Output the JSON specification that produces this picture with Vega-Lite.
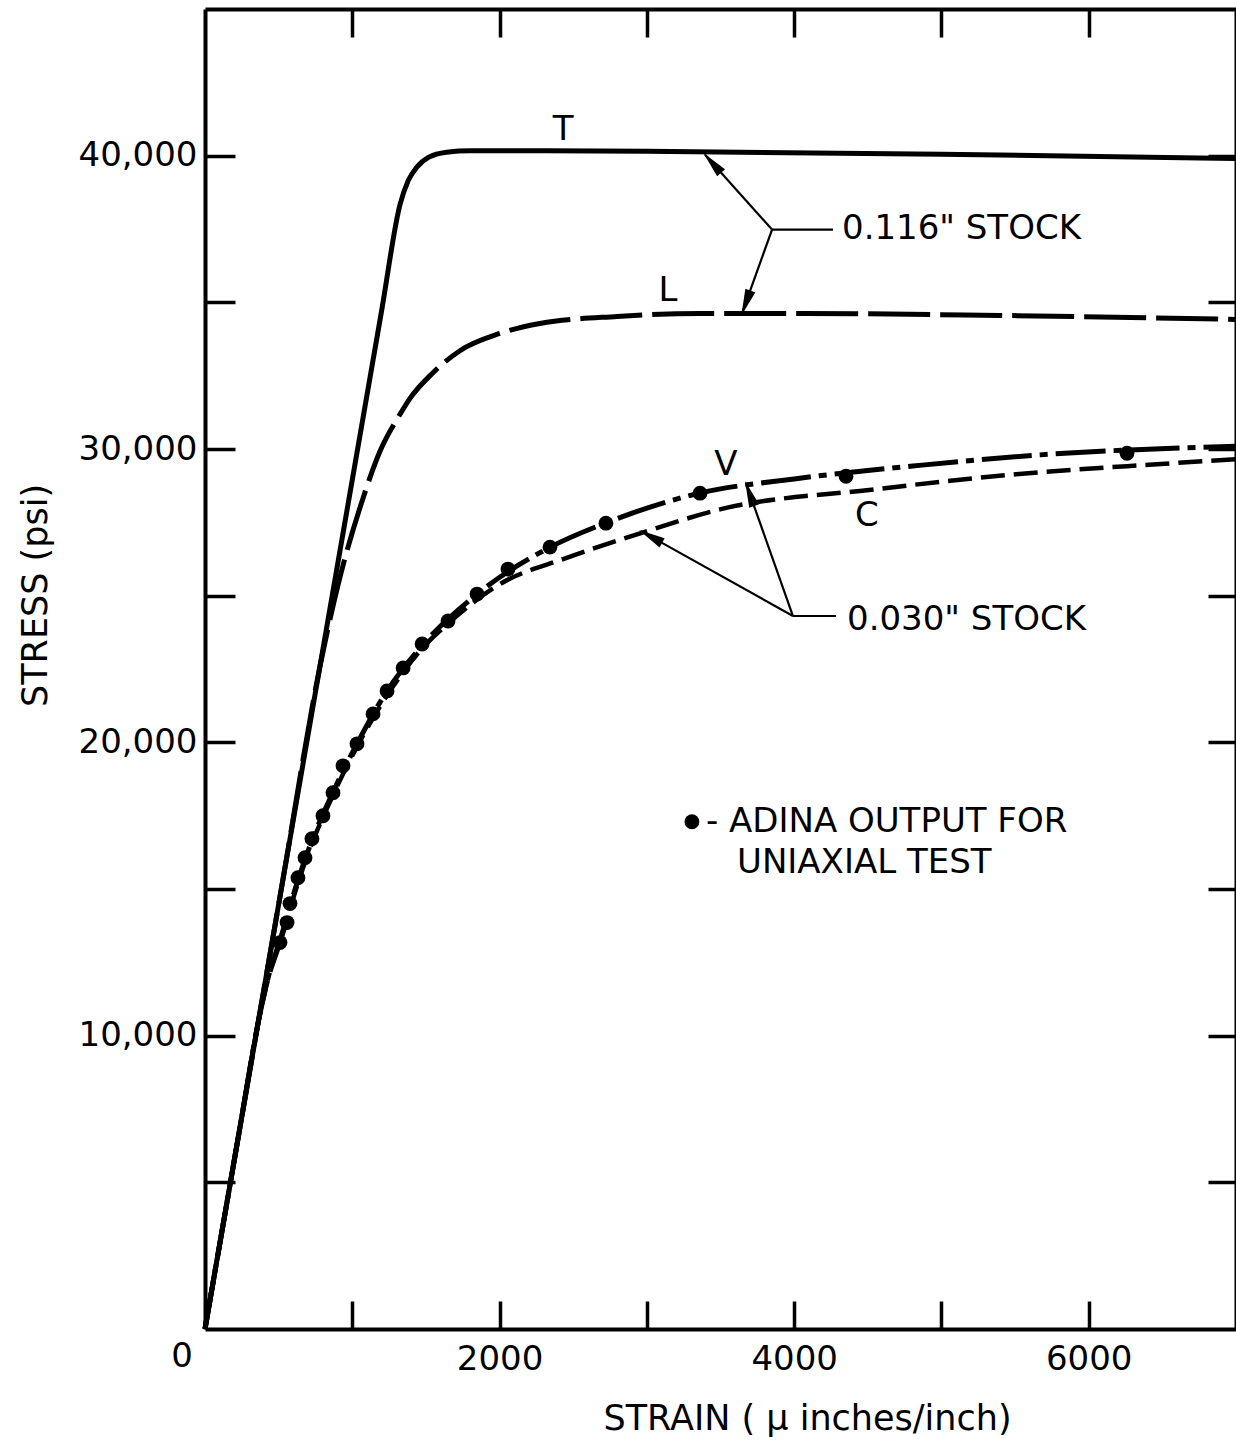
{
  "$schema": "https://vega.github.io/schema/vega-lite/v6.json",
  "width": 1031,
  "height": 1320,
  "autosize": {"type": "none"},
  "padding": {"left": 205, "top": 9, "right": 0, "bottom": 112},
  "background": "white",
  "config": {
    "view": {"stroke": null},
    "font": "DejaVu Sans",
    "axis": {"labelFont": "DejaVu Sans", "titleFont": "DejaVu Sans", "labelColor": "black", "titleColor": "black", "tickColor": "black", "domainColor": "black", "grid": false, "domainWidth": 4, "tickWidth": 3.5, "labelFontSize": 34, "titleFontSize": 35, "titleFontWeight": "normal", "labelFlush": false, "labelOverlap": false}
  },
  "datasets": {
    "T": [
      {"strain": 0, "stress": 0}, {"strain": 400, "stress": 11580}, {"strain": 800, "stress": 23160}, {"strain": 1200, "stress": 34740}, {"strain": 1324, "stress": 38330}, {"strain": 1380, "stress": 39150}, {"strain": 1440, "stress": 39620}, {"strain": 1520, "stress": 39950}, {"strain": 1640, "stress": 40120}, {"strain": 1800, "stress": 40170}, {"strain": 3000, "stress": 40150}, {"strain": 5000, "stress": 40050}, {"strain": 7000, "stress": 39900}
    ],
    "L": [
      {"strain": 0, "stress": 0}, {"strain": 260, "stress": 7527}, {"strain": 520, "stress": 15054}, {"strain": 780, "stress": 22580}, {"strain": 900, "stress": 25300}, {"strain": 1073, "stress": 28323}, {"strain": 1188, "stress": 29923}, {"strain": 1324, "stress": 31183}, {"strain": 1392, "stress": 31728}, {"strain": 1548, "stress": 32600}, {"strain": 1731, "stress": 33350}, {"strain": 2003, "stress": 33940}, {"strain": 2274, "stress": 34280}, {"strain": 2797, "stress": 34519}, {"strain": 3361, "stress": 34621}, {"strain": 4040, "stress": 34621}, {"strain": 5397, "stress": 34553}, {"strain": 7000, "stress": 34417}
    ],
    "V": [
      {"strain": 0, "stress": 0}, {"strain": 120, "stress": 3474}, {"strain": 240, "stress": 6948}, {"strain": 360, "stress": 10420}, {"strain": 430, "stress": 12000}, {"strain": 509, "stress": 13250}, {"strain": 631, "stress": 15300}, {"strain": 726, "stress": 16650}, {"strain": 869, "stress": 18300}, {"strain": 1032, "stress": 19950}, {"strain": 1236, "stress": 21750}, {"strain": 1474, "stress": 23300}, {"strain": 1847, "stress": 25050}, {"strain": 2342, "stress": 26650}, {"strain": 2722, "stress": 27480}, {"strain": 3361, "stress": 28500}, {"strain": 4000, "stress": 28980}, {"strain": 4868, "stress": 29450}, {"strain": 5669, "stress": 29800}, {"strain": 7000, "stress": 30094}
    ],
    "C": [
      {"strain": 0, "stress": 0}, {"strain": 120, "stress": 3474}, {"strain": 240, "stress": 6948}, {"strain": 360, "stress": 10420}, {"strain": 430, "stress": 11950}, {"strain": 509, "stress": 13150}, {"strain": 631, "stress": 15200}, {"strain": 726, "stress": 16550}, {"strain": 869, "stress": 18200}, {"strain": 1032, "stress": 19850}, {"strain": 1236, "stress": 21600}, {"strain": 1474, "stress": 23200}, {"strain": 1650, "stress": 24050}, {"strain": 2003, "stress": 25396}, {"strain": 2451, "stress": 26281}, {"strain": 2960, "stress": 27132}, {"strain": 3503, "stress": 27949}, {"strain": 4556, "stress": 28630}, {"strain": 5506, "stress": 29140}, {"strain": 6463, "stress": 29481}, {"strain": 7000, "stress": 29651}
    ],
    "dots": [
      {"strain": 509, "stress": 13174}, {"strain": 557, "stress": 13855}, {"strain": 577, "stress": 14502}, {"strain": 631, "stress": 15387}, {"strain": 679, "stress": 16068}, {"strain": 726, "stress": 16715}, {"strain": 801, "stress": 17498}, {"strain": 869, "stress": 18281}, {"strain": 937, "stress": 19200}, {"strain": 1032, "stress": 19949}, {"strain": 1141, "stress": 20970}, {"strain": 1236, "stress": 21753}, {"strain": 1345, "stress": 22536}, {"strain": 1474, "stress": 23353}, {"strain": 1650, "stress": 24136}, {"strain": 1847, "stress": 25055}, {"strain": 2057, "stress": 25906}, {"strain": 2342, "stress": 26655}, {"strain": 2722, "stress": 27472}, {"strain": 3361, "stress": 28494}, {"strain": 4352, "stress": 29072}, {"strain": 6260, "stress": 29855}, {"strain": 3306, "stress": 17294}
    ],
    "leaders": [
      {"x1": 3850, "y1": 37481, "x2": 3395, "y2": 40034},
      {"x1": 3850, "y1": 37481, "x2": 3646, "y2": 34621},
      {"x1": 3850, "y1": 37481, "x2": 4264, "y2": 37481},
      {"x1": 3992, "y1": 24306, "x2": 2960, "y2": 27200},
      {"x1": 3992, "y1": 24306, "x2": 3673, "y2": 28834},
      {"x1": 3992, "y1": 24306, "x2": 4284, "y2": 24306}
    ],
    "arrows": [
      {"strain": 3444, "stress": 39755, "ang": 318},
      {"strain": 3672, "stress": 34974, "ang": 200},
      {"strain": 3025, "stress": 27016, "ang": 299},
      {"strain": 3698, "stress": 28480, "ang": 340}
    ],
    "letters": [
      {"strain": 2431, "stress": 40885, "label": "T"},
      {"strain": 3144, "stress": 35370, "label": "L"},
      {"strain": 3537, "stress": 29464, "label": "V"},
      {"strain": 4494, "stress": 27728, "label": "C"},
      {"strain": -156, "stress": -953, "label": "0"}
    ],
    "notes": [
      {"strain": 4325, "stress": 37498, "label": "0.116\" STOCK"},
      {"strain": 4359, "stress": 24170, "label": "0.030\" STOCK"},
      {"strain": 3401, "stress": 17294, "label": "- ADINA OUTPUT FOR"},
      {"strain": 3612, "stress": 15898, "label": "UNIAXIAL TEST"}
    ]
  },
  "layer": [
    {
      "data": {"name": "T"},
      "mark": {"type": "line", "color": "black", "strokeWidth": 5, "interpolate": "monotone"},
      "encoding": {
        "x": {"field": "strain", "type": "quantitative", "scale": {"domain": [0, 7000], "nice": false, "zero": false},
          "axis": {"orient": "bottom", "values": [1000, 2000, 3000, 4000, 5000, 6000], "format": "d", "labelExpr": "datum.value % 2000 === 0 ? datum.label : ''", "tickSize": -28, "labelPadding": 41, "title": "STRAIN ( μ inches/inch)", "titleX": 602, "titleY": 89, "titleBaseline": "middle", "titleAlign": "center"}},
        "y": {"field": "stress", "type": "quantitative", "scale": {"domain": [0, 45000], "nice": false, "zero": false},
          "axis": {"orient": "left", "values": [5000, 10000, 15000, 20000, 25000, 30000, 35000, 40000], "labelExpr": "datum.value % 10000 === 0 ? format(datum.value, ',') : ''", "tickSize": -30, "labelPadding": 38, "title": "STRESS (psi)", "titleX": -170, "titleY": 586, "titleAngle": 270, "titleBaseline": "middle", "titleAlign": "center"}}
      }
    },
    {
      "data": {"name": "L"},
      "mark": {"type": "line", "color": "black", "strokeWidth": 5, "interpolate": "monotone", "strokeDash": [62, 10]},
      "encoding": {
        "x": {"field": "strain", "type": "quantitative", "axis": null},
        "y": {"field": "stress", "type": "quantitative", "axis": null}
      }
    },
    {
      "data": {"name": "V"},
      "mark": {"type": "line", "color": "black", "strokeWidth": 5, "interpolate": "monotone", "strokeDash": [50, 8, 8, 8]},
      "encoding": {
        "x": {"field": "strain", "type": "quantitative", "axis": null},
        "y": {"field": "stress", "type": "quantitative", "axis": null}
      }
    },
    {
      "data": {"name": "C"},
      "mark": {"type": "line", "color": "black", "strokeWidth": 4.5, "interpolate": "monotone", "strokeDash": [24, 9]},
      "encoding": {
        "x": {"field": "strain", "type": "quantitative", "axis": null},
        "y": {"field": "stress", "type": "quantitative", "axis": null}
      }
    },
    {
      "data": {"name": "dots"},
      "mark": {"type": "point", "filled": true, "color": "black", "opacity": 1, "size": 220, "shape": "circle"},
      "encoding": {
        "x": {"field": "strain", "type": "quantitative", "axis": null},
        "y": {"field": "stress", "type": "quantitative", "axis": null}
      }
    },
    {
      "data": {"name": "leaders"},
      "mark": {"type": "rule", "color": "black", "strokeWidth": 2.2},
      "encoding": {
        "x": {"field": "x1", "type": "quantitative",
          "axis": {"orient": "top", "values": [1000, 2000, 3000, 4000, 5000, 6000], "labels": false, "tickSize": -28, "title": null}},
        "y": {"field": "y1", "type": "quantitative",
          "axis": {"orient": "right", "values": [5000, 10000, 15000, 20000, 25000, 30000, 35000, 40000], "labels": false, "tickSize": -28, "title": null}},
        "x2": {"field": "x2"},
        "y2": {"field": "y2"}
      }
    },
    {
      "data": {"name": "arrows"},
      "mark": {"type": "point", "filled": true, "color": "black", "opacity": 1, "size": 700, "shape": "M0,-1L0.4,1L-0.4,1Z"},
      "encoding": {
        "x": {"field": "strain", "type": "quantitative", "axis": null},
        "y": {"field": "stress", "type": "quantitative", "axis": null},
        "angle": {"field": "ang", "type": "quantitative", "scale": null}
      }
    },
    {
      "data": {"name": "letters"},
      "mark": {"type": "text", "color": "black", "fontSize": 34, "align": "center", "baseline": "middle", "font": "DejaVu Sans"},
      "encoding": {
        "x": {"field": "strain", "type": "quantitative", "axis": null},
        "y": {"field": "stress", "type": "quantitative", "axis": null},
        "text": {"field": "label"}
      }
    },
    {
      "data": {"name": "notes"},
      "mark": {"type": "text", "color": "black", "fontSize": 34, "align": "left", "baseline": "middle", "font": "DejaVu Sans"},
      "encoding": {
        "x": {"field": "strain", "type": "quantitative", "axis": null},
        "y": {"field": "stress", "type": "quantitative", "axis": null},
        "text": {"field": "label"}
      }
    }
  ],
  "resolve": {"axis": {"x": "independent", "y": "independent"}}
}
